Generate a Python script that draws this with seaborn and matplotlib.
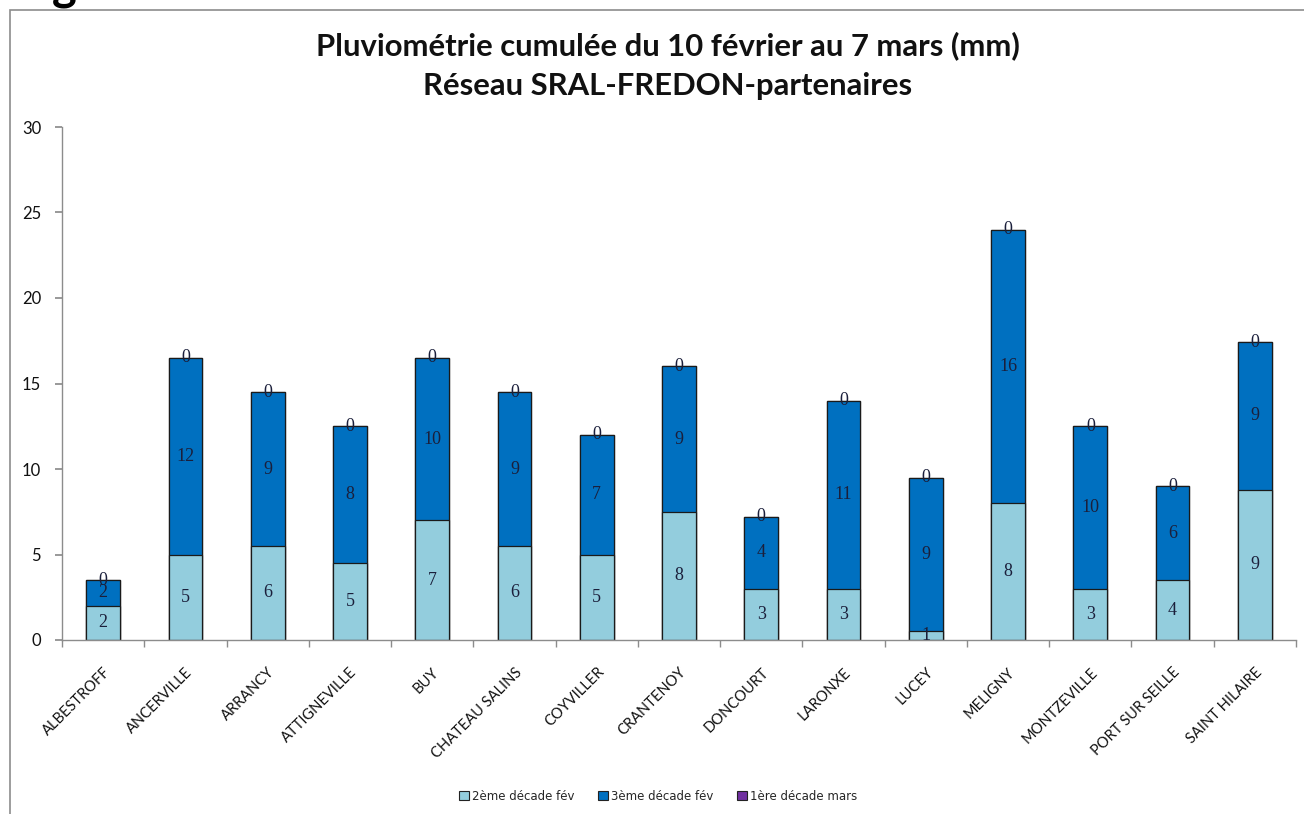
import matplotlib
matplotlib.use("Agg")
import matplotlib.pyplot as plt
import seaborn as sns
import numpy as np
import pandas as pd
from matplotlib.patches import Rectangle, Patch

stations = ["ALBESTROFF", "ANCERVILLE", "ARRANCY", "ATTIGNEVILLE", "BUY",
            "CHATEAU SALINS", "COYVILLER", "CRANTENOY", "DONCOURT", "LARONXE",
            "LUCEY", "MELIGNY", "MONTZEVILLE", "PORT SUR SEILLE", "SAINT HILAIRE"]
dec2_fev = [2.0, 5.0, 5.5, 4.5, 7.0, 5.5, 5.0, 7.5, 3.0, 3.0, 0.5, 8.0, 3.0, 3.5, 8.8]
dec3_fev = [1.5, 11.5, 9.0, 8.0, 9.5, 9.0, 7.0, 8.5, 4.2, 11.0, 9.0, 16.0, 9.5, 5.5, 8.6]
dec1_mars = [0] * 15
series_names = ["2ème décade fév", "3ème décade fév", "1ère décade mars"]
colors = ["#93CDDD", "#0070C0", "#7030A0"]

sns.set_theme(style="white")
plt.rcParams['font.family'] = ['Lato', 'DejaVu Sans']

df = pd.DataFrame({"station": stations, "s1": dec2_fev, "s2": dec3_fev, "s3": dec1_mars})
df["c1"] = df["s1"]
df["c2"] = df["s1"] + df["s2"]
df["c3"] = df["c2"] + df["s3"]

fig = plt.figure(figsize=(13.04, 8.14), dpi=100)
ax = fig.add_axes([62/1304, 1-640/814, (1296-62)/1304, (640-127)/814])

for col, c in zip(["c3", "c2", "c1"], colors[::-1]):
    sns.barplot(data=df, x="station", y=col, color=c, ax=ax, width=0.41,
                edgecolor="#1a1a1a", linewidth=0.9, saturation=1, errorbar=None)

def rnd(v):
    return str(int(np.floor(v + 0.5)))

lab_kw = dict(ha="center", va="center", fontsize=13, color="#1b1f3b",
              family=["Liberation Serif", "DejaVu Serif"])
for i in range(len(stations)):
    ax.text(i, df["s1"][i] / 2, rnd(df["s1"][i]), **lab_kw)
    ax.text(i, df["c1"][i] + df["s2"][i] / 2, rnd(df["s2"][i]), **lab_kw)
    ax.text(i, df["c2"][i] + df["s3"][i] / 2, rnd(df["s3"][i]), **lab_kw)

ax.set_ylim(0, 30)
ax.set_xlim(-0.5, len(stations) - 0.5)
ax.set_yticks(range(0, 31, 5))
ax.set_xlabel("")
ax.set_ylabel("")
for s in ["top", "right"]:
    ax.spines[s].set_visible(False)
for s in ["left", "bottom"]:
    ax.spines[s].set_color("#8c8c8c")
    ax.spines[s].set_linewidth(1.0)
ax.tick_params(axis="y", left=True, length=5, color="#8c8c8c", labelsize=12, pad=10, labelcolor="#111111")
ax.set_xticks(np.arange(len(stations)))
ax.set_xticklabels(stations, rotation=45, ha="right", rotation_mode="anchor", fontsize=10.5, color="#111111")
ax.tick_params(axis="x", bottom=False, pad=12)
ax.set_xticks(np.arange(-0.5, len(stations), 1), minor=True)
ax.tick_params(axis="x", which="minor", bottom=True, length=5, color="#8c8c8c")

fig.text(0.512, 0.944, "Pluviométrie cumulée du 10 février au 7 mars (mm)", ha="center", va="center",
         fontsize=22.3, fontweight="bold", color="#111111")
fig.text(0.512, 0.894, "Réseau SRAL-FREDON-partenaires", ha="center", va="center",
         fontsize=22.3, fontweight="bold", color="#111111")

handles = [Patch(facecolor=c, edgecolor="#222222", linewidth=0.8) for c in colors]
fig.legend(handles, series_names, loc="center", bbox_to_anchor=(0.505, 1-796/814), ncol=3,
           frameon=False, prop={"family": "DejaVu Sans", "size": 8.5}, handlelength=0.8,
           handleheight=0.8, handletextpad=0.3, columnspacing=2.0)

fig.patches.append(Rectangle((10/1304, -0.05), 1.2, 1 - 10/814 + 0.05, transform=fig.transFigure,
                             fill=False, edgecolor="#8c8c8c", linewidth=1.2))
fig.text(52/1304, 1 + 1/814, "g", ha="left", va="baseline", fontsize=34, fontweight="bold", color="black")

fig.savefig("out.png", dpi=100)
